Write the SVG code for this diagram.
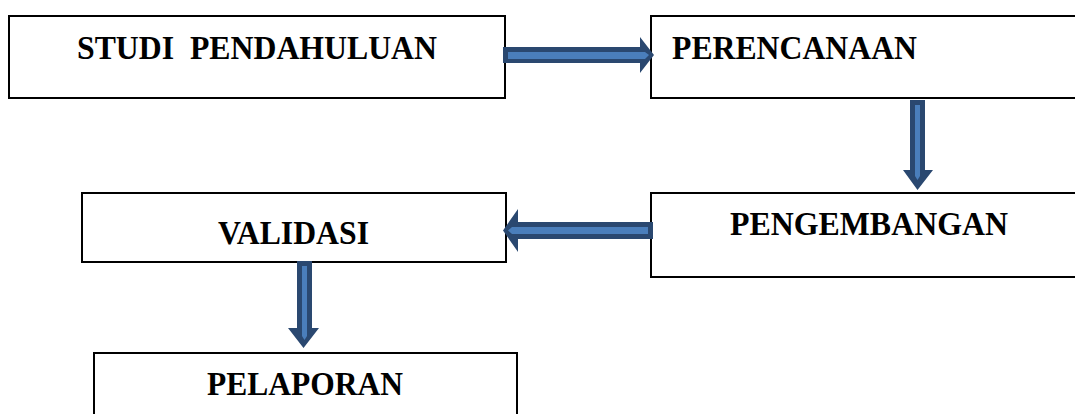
<svg xmlns="http://www.w3.org/2000/svg" width="1075" height="414" viewBox="0 0 1075 414">
<style>
.box{fill:#fff;stroke:#000;stroke-width:2}
.lbl{font-family:"Liberation Serif","Times New Roman",serif;font-weight:bold;font-size:33px;fill:#000}
.ao{fill:#2A4870}
.ai{fill:#4A7EBB}
</style>
<rect width="1075" height="414" fill="#fff"/>
<g id="studi">
<rect class="box" x="9" y="16" width="496" height="82"/>
<text class="lbl" x="77" y="59" xml:space="preserve" textLength="360" lengthAdjust="spacingAndGlyphs">STUDI  PENDAHULUAN</text>
</g>
<g id="perencanaan">
<rect class="box" x="651" y="16" width="440" height="82"/>
<text class="lbl" x="672" y="59" textLength="245" lengthAdjust="spacingAndGlyphs">PERENCANAAN</text>
</g>
<g id="pengembangan">
<rect class="box" x="651" y="193" width="440" height="84"/>
<text class="lbl" x="730" y="235" textLength="278" lengthAdjust="spacingAndGlyphs">PENGEMBANGAN</text>
</g>
<g id="validasi">
<rect class="box" x="82" y="193" width="424" height="69"/>
<text class="lbl" x="218" y="244" textLength="151" lengthAdjust="spacingAndGlyphs">VALIDASI</text>
</g>
<g id="pelaporan">
<rect class="box" x="94" y="353" width="423" height="80"/>
<text class="lbl" x="207" y="395" textLength="196" lengthAdjust="spacingAndGlyphs">PELAPORAN</text>
</g>
<g id="connectors">
<polygon class="ao" points="503,47 640,47 640,37 654,55 640,73 640,63 503,63"/>
<polygon class="ai" points="508,52 645,52 649,55 645,59 508,59"/>
<polygon class="ao" points="910,100 925,100 925,170 933,170 917.5,190 903,170 910,170"/>
<polygon class="ai" points="915,105 920,105 920,176 917.5,180 915,176"/>
<polygon class="ao" points="653,222 653,239 518,239 518,252 503,230.5 518,209 518,222"/>
<polygon class="ai" points="648,227 648,234 512,234 508,230.5 512,227"/>
<polygon class="ao" points="297,261 312,261 312,328 319,328 303.5,348 288,328 297,328"/>
<polygon class="ai" points="302,266 307,266 307,336 304.5,340 302,336"/>
</g>
</svg>
